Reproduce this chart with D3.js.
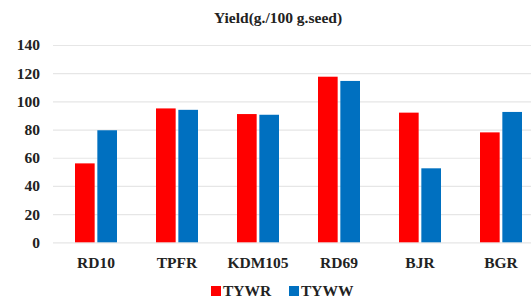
<!DOCTYPE html>
<html><head><meta charset="utf-8">
<script src="https://cdn.jsdelivr.net/npm/d3@7"></script>
<style>
html,body{margin:0;padding:0;background:#fff;overflow:hidden}
svg text{font-family:"Liberation Serif","Times New Roman",Times,serif !important;font-weight:bold;fill:#222}
</style>
</head><body>
<svg id="chart" width="531" height="298"></svg>
<script>
const categories = ["RD10", "TPFR", "KDM105", "RD69", "BJR", "BGR"];
const seriesNames = ["TYWR", "TYWW"];
const tywr = [56, 95, 91, 117.5, 92, 78];
const tyww = [79.5, 94, 90.5, 114.5, 52.5, 92.5];
const yTicks = [0, 20, 40, 60, 80, 100, 120, 140];
const colors = ["#FF0000", "#0070C0"];
const title = "Yield(g./100 g.seed)";

const svg = d3.select("#chart");

const x0 = d3.scaleBand().domain(categories).range([55.5, 541.5]).padding(0);
const x1 = d3.scaleBand().domain(seriesNames).range([-21, 21]).paddingInner(0.12).paddingOuter(0);
const y = d3.scaleLinear().domain([0, 140]).range([242.3, 45]);

// gridlines
const yAxis = d3.axisLeft(y).tickValues(yTicks).tickSize(-(531 - 53)).tickPadding(13);
const gy = svg.append("g").attr("transform", "translate(53,0)").call(yAxis);
gy.select(".domain").remove();
gy.selectAll(".tick line").attr("stroke", "#e6e6e6").attr("stroke-width", 1.2);
gy.selectAll(".tick text").style("font-size", "15.5px");

// bars
const data = categories.map((c, i) => ({cat: c, vals: [tywr[i], tyww[i]]}));
const groups = svg.append("g").selectAll("g").data(data).join("g")
  .attr("transform", d => `translate(${x0(d.cat) + x0.bandwidth() / 2},0)`);
groups.selectAll("rect").data(d => d.vals.map((v, j) => ({s: seriesNames[j], v, j})))
  .join("rect")
  .attr("x", d => x1(d.s))
  .attr("width", x1.bandwidth())
  .attr("y", d => y(d.v))
  .attr("height", d => y(0) - y(d.v))
  .attr("fill", d => colors[d.j]);

// x axis labels
const xAxis = d3.axisBottom(x0).tickSize(0).tickPadding(0);
const gx = svg.append("g").attr("transform", "translate(0,256)").call(xAxis);
gx.select(".domain").remove();
gx.selectAll(".tick text").style("font-size", "15.5px").attr("dy", "0.76em");

// title
svg.append("text").attr("x", 278).attr("y", 23).attr("text-anchor", "middle")
  .style("font-size", "15.5px").text(title);

// legend
const legendX = [211, 289];
const lg = svg.append("g").selectAll("g").data(seriesNames).join("g")
  .attr("transform", (d, i) => `translate(${legendX[i]},0)`);
lg.append("rect").attr("x", 0).attr("y", 286).attr("width", 10).attr("height", 10)
  .attr("fill", (d, i) => colors[i]);
lg.append("text").attr("x", 12).attr("y", 296).style("font-size", "15.5px").text(d => d);
</script>
</body></html>
